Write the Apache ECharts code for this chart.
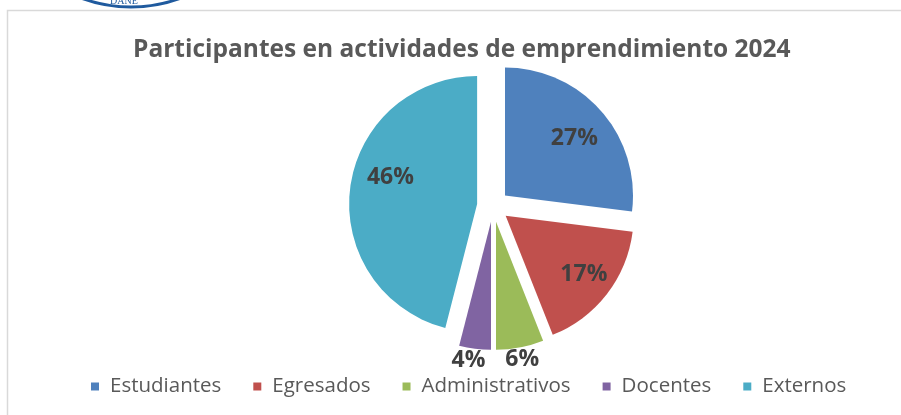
<!DOCTYPE html>
<html><head><meta charset="utf-8">
<script src="https://cdn.jsdelivr.net/npm/echarts@6/dist/echarts.min.js"></script>
<style>html,body{margin:0;padding:0;background:#fff}#c{width:901px;height:415px}</style>
</head><body><div id="c"></div>
<script>
const categories = ['Estudiantes', 'Egresados', 'Administrativos', 'Docentes', 'Externos'];
const values = [27, 17, 6, 4, 46];
const colors = ['#4F81BD', '#C0504D', '#9BBB59', '#8064A2', '#4BACC6'];
const labelOutside = [false, false, true, true, false];
const titleText = 'Participantes en actividades de emprendimiento 2024';

const chart = echarts.init(document.getElementById('c'), null, { renderer: 'canvas' });
const center = [493, 206];
const R = 128;
// small label nudges emulating the spreadsheet's "best fit" label placement
const labelNudge = [[-3, 7], [2, 0], [0, 0], [-5, 0], [9, -14]];
function labelText(i) {
  const dy = labelNudge[i][1];
  const t = '{v|' + values[i] + '%}';
  if (dy > 0) return '{s' + (2 * dy) + '| }\n' + t;
  if (dy < 0) return t + '\n{s' + (-2 * dy) + '| }';
  return t;
}
const spacerRich = {};
labelNudge.forEach(n => {
  const h = 2 * Math.abs(n[1]);
  if (h) spacerRich['s' + h] = { fontSize: 1, lineHeight: h };
});
function nudgePadding(n) {
  const dx = n[0];
  return [0, dx < 0 ? -2 * dx : 0, 0, dx > 0 ? 2 * dx : 0];
}
const common = {
  type: 'pie', center: center, startAngle: 90, clockwise: true,
  selectedMode: 'multiple', selectedOffset: 16, animation: false,
  avoidLabelOverlap: false, minAngle: 0, emphasis: { disabled: true }
};
const labelFont = { fontFamily: 'Open Sans', fontWeight: 'bold', fontSize: 23, color: '#404040' };
const labelRich = Object.assign({ v: Object.assign({ lineHeight: 28 }, labelFont) }, spacerRich);

const mainData = categories.map((n, i) => ({
  name: n, value: values[i], selected: true, itemStyle: { color: colors[i] }
}));
const innerLabelData = categories.map((n, i) => ({
  name: n, value: values[i], selected: true,
  label: { show: !labelOutside[i], padding: nudgePadding(labelNudge[i]) }
}));
const outerLabelData = categories.map((n, i) => ({
  name: n, value: values[i], selected: true,
  label: { show: labelOutside[i], padding: nudgePadding(labelNudge[i]) }
}));

chart.setOption({
  animation: false,
  title: {
    text: titleText, left: 128, top: 33,
    textStyle: { fontFamily: 'Open Sans', fontWeight: 'bold', fontSize: 24.5, color: '#595959' }
  },
  legend: {
    data: categories, left: 86, top: 371, icon: 'rect', itemWidth: 8, itemHeight: 8, itemGap: 32,
    selectedMode: false,
    textStyle: { fontFamily: 'Open Sans', fontSize: 20.5, color: '#595959', padding: [0, 0, 0, 6] }
  },
  graphic: [
    { type: 'rect', shape: { x: 7.5, y: 10.5, width: 1000, height: 600 }, style: { fill: 'none', stroke: '#d9d9d9', lineWidth: 1.5 }, silent: true },
    { type: 'circle', shape: { cx: 131, cy: -137, r: 144 }, style: { fill: '#ffffff', stroke: '#1f5a9e', lineWidth: 3 }, silent: true },
    { type: 'text', left: 110, top: -4, style: { text: 'DANE', fill: '#1f5a9e', fontSize: 10, fontFamily: 'Liberation Serif' }, silent: true }
  ],
  series: [
    Object.assign({}, common, {
      name: 'main', radius: R, data: mainData, label: { show: false }, labelLine: { show: false }
    }),
    Object.assign({}, common, {
      name: 'inner', radius: [0.46 * R, R], data: innerLabelData, silent: true,
      itemStyle: { color: 'rgba(0,0,0,0)' },
      label: Object.assign({ position: 'inside', formatter: p => labelText(p.dataIndex), rich: labelRich }, labelFont),
      labelLine: { show: false }
    }),
    Object.assign({}, common, {
      name: 'outer', radius: [R, R + 18], data: outerLabelData, silent: true,
      itemStyle: { color: 'rgba(0,0,0,0)' },
      label: Object.assign({ position: 'inside', formatter: p => labelText(p.dataIndex), rich: labelRich }, labelFont),
      labelLine: { show: false }
    })
  ]
});
</script></body></html>
